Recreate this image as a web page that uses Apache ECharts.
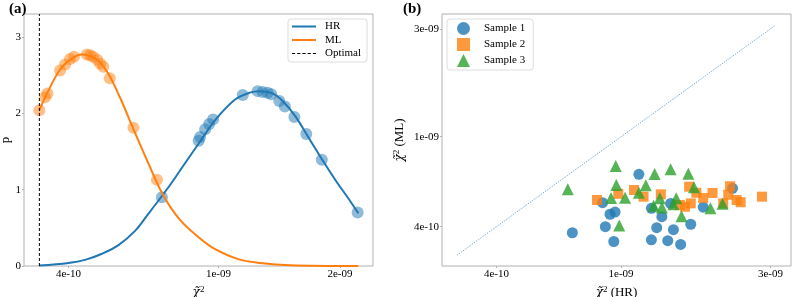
<!DOCTYPE html>
<html><head><meta charset="utf-8">
<script src="https://cdn.jsdelivr.net/npm/echarts@6/dist/echarts.min.js"></script>
<style>html,body{margin:0;padding:0;background:#fff}#c{width:793px;height:297px}</style>
</head><body><div id="c"></div>
<script>
// ---- Panel (a) data ----
const hrCurveX = [3.35e-10, 4.0e-10, 4.43e-10, 4.91e-10, 5.42e-10, 6.01e-10, 6.51e-10, 7.09e-10, 7.54e-10, 8.06e-10, 8.94e-10, 9.80e-10, 1.107e-9, 1.21e-9, 1.29e-9, 1.39e-9, 1.48e-9, 1.60e-9, 1.73e-9, 1.88e-9, 2.04e-9, 2.20e-9, 2.35e-9];
const hrCurveY = [0.005, 0.04, 0.08, 0.16, 0.27, 0.46, 0.68, 0.92, 1.10, 1.31, 1.63, 1.91, 2.18, 2.27, 2.29, 2.26, 2.16, 1.96, 1.69, 1.40, 1.13, 0.90, 0.69];
const mlCurveX = [3.35e-10, 3.51e-10, 3.80e-10, 4.09e-10, 4.35e-10, 4.77e-10, 5.10e-10, 5.49e-10, 5.94e-10, 6.51e-10, 7.13e-10, 7.92e-10, 8.94e-10, 9.80e-10, 1.128e-9, 1.29e-9, 1.55e-9, 2.35e-9];
const mlCurveY = [2.04, 2.26, 2.57, 2.72, 2.77, 2.70, 2.52, 2.20, 1.80, 1.35, 0.93, 0.60, 0.36, 0.22, 0.09, 0.04, 0.01, 0.0];
const hrPointsX = [7.08e-10, 8.86e-10, 8.94e-10, 9.22e-10, 9.45e-10, 9.68e-10, 1.16e-9, 1.27e-9, 1.31e-9, 1.35e-9, 1.38e-9, 1.45e-9, 1.50e-9, 1.59e-9, 1.71e-9, 1.88e-9, 2.34e-9];
const hrPointsY = [0.90, 1.64, 1.69, 1.79, 1.86, 1.92, 2.24, 2.29, 2.28, 2.27, 2.25, 2.16, 2.09, 1.95, 1.73, 1.39, 0.70];
const mlPointsX = [3.35e-10, 3.47e-10, 3.52e-10, 3.80e-10, 3.92e-10, 4.04e-10, 4.14e-10, 4.48e-10, 4.57e-10, 4.65e-10, 4.77e-10, 4.86e-10, 4.95e-10, 5.15e-10, 5.95e-10, 6.87e-10];
const mlPointsY = [2.04, 2.21, 2.26, 2.56, 2.64, 2.71, 2.74, 2.77, 2.76, 2.74, 2.70, 2.65, 2.61, 2.46, 1.81, 1.13];
const optimalX = 3.35e-10;
const leftXTicks = [4e-10, 1e-9, 2.1e-9];
const leftXTickLabels = ['4e-10', '1e-09', '2e-09'];
const leftYTicks = [0, 1, 2, 3];
const leftXRange = [3.05e-10, 2.57e-9];
const leftYRange = [0, 3.3];

// ---- Panel (b) data ----
const s1X = [6.99e-10, 1.14e-9, 8.73e-10, 9.22e-10, 9.57e-10, 8.91e-10, 9.48e-10, 1.25e-9, 1.35e-9, 1.44e-9, 1.30e-9, 1.47e-9, 1.67e-9, 1.25e-9, 1.41e-9, 1.55e-9, 1.83e-9, 2.27e-9];
const s1Y = [3.76e-10, 6.82e-10, 5.11e-10, 4.54e-10, 4.64e-10, 4.00e-10, 3.44e-10, 4.82e-10, 4.43e-10, 5.07e-10, 3.96e-10, 3.88e-10, 4.10e-10, 3.50e-10, 3.47e-10, 3.34e-10, 4.88e-10, 5.91e-10];
const s2X = [8.38e-10, 9.80e-10, 1.10e-9, 1.18e-9, 1.34e-9, 1.54e-9, 1.60e-9, 1.67e-9, 1.65e-9, 1.74e-9, 1.83e-9, 1.96e-9, 2.12e-9, 2.23e-9, 2.20e-9, 2.34e-9, 2.41e-9, 2.82e-9];
const s2Y = [5.25e-10, 5.59e-10, 5.81e-10, 5.43e-10, 5.56e-10, 4.99e-10, 4.90e-10, 5.07e-10, 6.01e-10, 5.65e-10, 5.36e-10, 5.64e-10, 5.07e-10, 6.04e-10, 5.54e-10, 5.25e-10, 5.13e-10, 5.43e-10];
const s3X = [6.76e-10, 9.62e-10, 9.66e-10, 9.29e-10, 1.03e-9, 9.87e-10, 1.14e-9, 1.20e-9, 1.28e-9, 1.33e-9, 1.27e-9, 1.35e-9, 1.44e-9, 1.50e-9, 1.47e-9, 1.56e-9, 1.64e-9, 1.71e-9, 1.93e-9, 2.11e-9];
const s3Y = [5.85e-10, 7.43e-10, 6.11e-10, 5.36e-10, 5.37e-10, 4.05e-10, 5.65e-10, 6.10e-10, 6.84e-10, 5.34e-10, 4.95e-10, 4.86e-10, 7.18e-10, 5.34e-10, 5.03e-10, 4.45e-10, 6.86e-10, 5.97e-10, 4.82e-10, 5.05e-10];
const diagX = [3.0e-10, 3.1e-9];
const diagY = [3.0e-10, 3.1e-9];
const rightTicks = [4e-10, 1e-9, 3e-9];
const rightTickLabels = ['4e-10', '1e-09', '3e-09'];
const rightRange = [2.68e-10, 3.49e-9];

// ---- build ----
const L = Math.log10;
const FONT = "'Liberation Serif', 'DejaVu Serif', 'Times New Roman', serif";
const MATH = "'DejaVu Serif', serif";
const pairsLogX = (xs, ys) => xs.map((x, i) => [L(x), ys[i]]);
const pairsLogXY = (xs, ys) => xs.map((x, i) => [L(x), L(ys[i])]);
function logFormatter(ticks, labels) {
  return function (v) {
    let best = 0, bd = Infinity;
    ticks.forEach((t, i) => { const d = Math.abs(L(t) - v); if (d < bd) { bd = d; best = i; } });
    return labels[best];
  };
}
const tickStyle = (vals) => ({ show: true, length: 2, inside: false, customValues: vals, lineStyle: { color: '#b0b0b0', width: 1 } });
const labelBase = { color: '#000', fontFamily: FONT, fontSize: 11 };
const nameRich = {
  c: { fontFamily: MATH, fontStyle: 'italic', fontSize: 12, color: '#000' },
  s: { fontFamily: FONT, fontSize: 9, color: '#000', padding: [0, 0, 7, 0] },
  t: { fontFamily: FONT, fontSize: 13, color: '#000' }
};
const LINE_ICON = 'path://M0 0H24V2H0Z';
const DASH_ICON = 'path://M0 0H3V1H0Z M5 0H8V1H5Z M10 0H13V1H10Z M15 0H18V1H15Z M20 0H23V1H20Z';

const chart = echarts.init(document.getElementById('c'), null, { renderer: 'canvas' });
const gridBase = { width: 349, height: 252, top: 14, show: true, borderColor: '#b0b0b0', borderWidth: 1, backgroundColor: 'transparent', containLabel: false, outerBoundsMode: 'none' };
const option = {
  animation: false,
  backgroundColor: '#fff',
  title: [
    { text: '(a)', left: 4, top: -3, textStyle: { fontFamily: FONT, fontWeight: 'bold', fontSize: 15, color: '#000' } },
    { text: '(b)', left: 398, top: -3, textStyle: { fontFamily: FONT, fontWeight: 'bold', fontSize: 15, color: '#000' } }
  ],
  grid: [
    Object.assign({ left: 24 }, gridBase),
    Object.assign({ left: 442 }, gridBase)
  ],
  legend: [
    {
      data: [{ name: 'HR', icon: LINE_ICON }, { name: 'ML', icon: LINE_ICON }, { name: 'Optimal', icon: DASH_ICON }],
      orient: 'vertical', left: 288, top: 19,
      itemWidth: 24, itemHeight: 14, itemGap: 2.5, padding: [2, 6, 3, 4], symbolKeepAspect: true,
      backgroundColor: 'rgba(255,255,255,0.8)', borderColor: '#dddddd', borderWidth: 1, borderRadius: 3,
      textStyle: { fontFamily: FONT, fontSize: 11, color: '#000', padding: [0, 0, 0, 4] }
    },
    {
      data: ['Sample 1', 'Sample 2', 'Sample 3'], orient: 'vertical', left: 447, top: 19,
      itemWidth: 13, itemHeight: 13, itemGap: 3, padding: [3, 8, 3, 10], symbolKeepAspect: true,
      backgroundColor: 'rgba(255,255,255,0.8)', borderColor: '#dddddd', borderWidth: 1, borderRadius: 3,
      textStyle: { fontFamily: FONT, fontSize: 11, color: '#000', padding: [0, 0, 0, 9] }
    }
  ],
  xAxis: [
    {
      gridIndex: 0, type: 'value', min: L(leftXRange[0]), max: L(leftXRange[1]),
      axisLine: { show: false }, splitLine: { show: false },
      axisTick: tickStyle(leftXTicks.map(L)),
      axisLabel: Object.assign({ customValues: leftXTicks.map(L), margin: 3, formatter: logFormatter(leftXTicks, leftXTickLabels) }, labelBase),
      name: '{c|χ̃}{s|2}', nameLocation: 'middle', nameGap: 10,
      nameTextStyle: { rich: nameRich }
    },
    {
      gridIndex: 1, type: 'value', min: L(rightRange[0]), max: L(rightRange[1]),
      axisLine: { show: false }, splitLine: { show: false },
      axisTick: tickStyle(rightTicks.map(L)),
      axisLabel: Object.assign({ customValues: rightTicks.map(L), margin: 3, formatter: logFormatter(rightTicks, rightTickLabels) }, labelBase),
      name: '{c|χ̃}{s|2}{t| (HR)}', nameLocation: 'middle', nameGap: 10,
      nameTextStyle: { rich: nameRich }
    }
  ],
  yAxis: [
    {
      gridIndex: 0, type: 'value', min: leftYRange[0], max: leftYRange[1],
      axisLine: { show: false }, splitLine: { show: false },
      axisTick: tickStyle(leftYTicks),
      axisLabel: Object.assign({ customValues: leftYTicks, margin: 3 }, labelBase),
      name: 'p', nameLocation: 'middle', nameGap: 12,
      nameTextStyle: { fontFamily: FONT, fontSize: 13, color: '#000' }
    },
    {
      gridIndex: 1, type: 'value', min: L(rightRange[0]), max: L(rightRange[1]),
      axisLine: { show: false }, splitLine: { show: false },
      axisTick: tickStyle(rightTicks.map(L)),
      axisLabel: Object.assign({ customValues: rightTicks.map(L), margin: 3, formatter: logFormatter(rightTicks, rightTickLabels) }, labelBase),
      name: '{c|χ̃}{s|2}{t| (ML)}', nameLocation: 'middle', nameGap: 34,
      nameTextStyle: { rich: nameRich }
    }
  ],
  series: [
    { name: 'HR', type: 'line', xAxisIndex: 0, yAxisIndex: 0, data: pairsLogX(hrCurveX, hrCurveY), smooth: 0.35, symbol: 'none',
      lineStyle: { color: '#1f77b4', width: 2 }, itemStyle: { color: '#1f77b4' }, z: 3 },
    { name: 'ML', type: 'line', xAxisIndex: 0, yAxisIndex: 0, data: pairsLogX(mlCurveX, mlCurveY), smooth: 0.35, symbol: 'none',
      lineStyle: { color: '#ff7f0e', width: 2 }, itemStyle: { color: '#ff7f0e' }, z: 3 },
    { name: 'Optimal', type: 'line', xAxisIndex: 0, yAxisIndex: 0, data: [[L(optimalX), leftYRange[0]], [L(optimalX), leftYRange[1]]], symbol: 'none',
      lineStyle: { color: '#000', width: 1, type: [3, 2] }, itemStyle: { color: '#000' }, z: 3 },
    { name: 'HR samples', type: 'scatter', xAxisIndex: 0, yAxisIndex: 0, data: pairsLogX(hrPointsX, hrPointsY), symbol: 'circle', symbolSize: 12,
      itemStyle: { color: '#1f77b4', opacity: 0.5 }, z: 2 },
    { name: 'ML samples', type: 'scatter', xAxisIndex: 0, yAxisIndex: 0, data: pairsLogX(mlPointsX, mlPointsY), symbol: 'circle', symbolSize: 12,
      itemStyle: { color: '#ff7f0e', opacity: 0.5 }, z: 2 },
    { name: 'diag', type: 'line', xAxisIndex: 1, yAxisIndex: 1, data: pairsLogXY(diagX, diagY), symbol: 'none',
      lineStyle: { color: '#1f77b4', width: 1, type: [1, 1.3], opacity: 0.75 }, z: 1 },
    { name: 'Sample 1', type: 'scatter', xAxisIndex: 1, yAxisIndex: 1, data: pairsLogXY(s1X, s1Y), symbol: 'circle', symbolSize: 11,
      itemStyle: { color: '#1f77b4', opacity: 0.8 }, z: 2 },
    { name: 'Sample 2', type: 'scatter', xAxisIndex: 1, yAxisIndex: 1, data: pairsLogXY(s2X, s2Y), symbol: 'rect', symbolSize: 10,
      itemStyle: { color: '#ff7f0e', opacity: 0.8 }, z: 3 },
    { name: 'Sample 3', type: 'scatter', xAxisIndex: 1, yAxisIndex: 1, data: pairsLogXY(s3X, s3Y), symbol: 'triangle', symbolSize: 12,
      itemStyle: { color: '#2ca02c', opacity: 0.8 }, z: 4 }
  ]
};
chart.setOption(option);
</script>
</body></html>
